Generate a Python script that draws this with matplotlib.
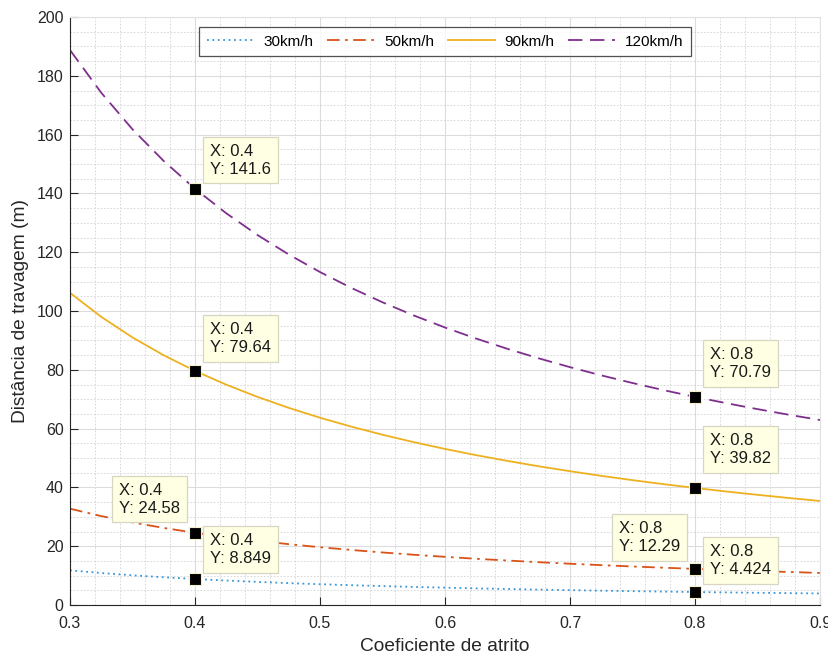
import matplotlib.pyplot as plt
import numpy as np
from matplotlib.ticker import MultipleLocator

# friction coefficient (x) and braking distance (m)
mu = [0.300, 0.325, 0.350, 0.375, 0.400, 0.425, 0.450, 0.475, 0.500, 0.525,
      0.550, 0.575, 0.600, 0.625, 0.650, 0.675, 0.700, 0.725, 0.750, 0.775,
      0.800, 0.825, 0.850, 0.875, 0.900]

d30 = [11.80, 10.89, 10.11, 9.44, 8.849, 8.33, 7.87, 7.45, 7.08, 6.74,
       6.44, 6.16, 5.90, 5.66, 5.45, 5.24, 5.06, 4.88, 4.72, 4.57,
       4.424, 4.29, 4.16, 4.05, 3.93]
d50 = [32.77, 30.25, 28.09, 26.22, 24.58, 23.13, 21.85, 20.70, 19.66, 18.73,
       17.88, 17.10, 16.39, 15.73, 15.13, 14.57, 14.05, 13.56, 13.11, 12.69,
       12.29, 11.92, 11.57, 11.24, 10.92]
d90 = [106.18, 98.02, 91.01, 84.95, 79.64, 74.95, 70.79, 67.06, 63.71, 60.68,
       57.92, 55.40, 53.09, 50.97, 49.01, 47.19, 45.51, 43.94, 42.47, 41.10,
       39.82, 38.61, 37.48, 36.41, 35.39]
d120 = [188.77, 174.25, 161.81, 151.02, 141.58, 133.25, 125.85, 119.23, 113.26, 107.87,
        102.97, 98.49, 94.39, 90.61, 87.13, 83.90, 80.90, 78.11, 75.51, 73.07,
        70.79, 68.65, 66.63, 64.72, 62.92]

labels = ["30km/h", "50km/h", "90km/h", "120km/h"]

plt.rcParams["font.family"] = ["Liberation Sans", "DejaVu Sans"]

fig = plt.figure(figsize=(8.29, 6.59), dpi=100)
ax = fig.add_axes([0.0844, 0.0819, 0.9048, 0.8923])

series = [d30, d50, d90, d120]
colors = ["#3a96d6", "#d95319", "#edb120", "#7e2f8e"]
styles = [(0, (1, 2)), (0, (7, 3, 1.5, 3)), "-", (0, (8, 4.2))]

for d, c, ls, lab in zip(series, colors, styles, labels):
    ax.plot(mu, d, color=c, linestyle=ls, linewidth=1.3, label=lab)

# datatips: (series index, mu, side, vertical offset in px)
tips = [
    (3, 0.4, "right", 12),
    (2, 0.4, "right", 16),
    (1, 0.4, "left", 17),
    (0, 0.4, "right", 13),
    (3, 0.8, "right", 17),
    (2, 0.8, "right", 22),
    (1, 0.8, "left", 15),
    (0, 0.8, "right", 15),
]
for si, m, side, dy in tips:
    y = series[si][mu.index(m)]
    ax.plot([m], [y], marker="s", markersize=8.6, color="black",
            markeredgecolor="#f5f0c8", markeredgewidth=0.8, zorder=5)
    dx = 15 if side == "right" else -15
    ax.annotate("X: %g\nY: %.4g" % (m, y), xy=(m, y), xytext=(dx, dy),
                textcoords="offset pixels",
                ha="left" if side == "right" else "right", va="bottom",
                multialignment="left", fontsize=12, color="#1a1a1a",
                linespacing=1.25, zorder=6,
                bbox=dict(boxstyle="square,pad=0.4", fc="#ffffe3",
                          ec="#d6d6c2", lw=0.9))

ax.set_xlim(0.3, 0.9)
ax.set_ylim(0, 200)
ax.xaxis.set_major_locator(MultipleLocator(0.1))
ax.xaxis.set_minor_locator(MultipleLocator(0.02))
ax.yaxis.set_major_locator(MultipleLocator(20))
ax.yaxis.set_minor_locator(MultipleLocator(5))
ax.set_xticklabels([f"{v:g}" for v in np.round(ax.get_xticks(), 1)])

ax.grid(which="major", color="#dcdcdc", linestyle="-", linewidth=0.8)
ax.grid(which="minor", color="#d2d2d2", linestyle=(0, (2, 2)), linewidth=0.6)
ax.set_axisbelow(True)

ax.tick_params(which="both", direction="in", colors="#262626", labelsize=11.5,
               top=False, right=False)
ax.tick_params(which="major", length=5.5, width=0.8)
ax.tick_params(which="minor", length=0)
ax.tick_params(axis="x", pad=8)
ax.tick_params(axis="y", pad=4.5)
for s in ["left", "bottom"]:
    ax.spines[s].set_color("#262626")
    ax.spines[s].set_linewidth(0.8)
for s in ["top", "right"]:
    ax.spines[s].set_color("#e0e0e0")
    ax.spines[s].set_linewidth(0.8)

ax.set_xlabel("Coeficiente de atrito", fontsize=13.8, color="#262626", labelpad=5)
ax.set_ylabel("Distância de travagem (m)", fontsize=13.8, color="#262626", labelpad=6)

leg = ax.legend(loc="upper center", bbox_to_anchor=(0.5, 0.983), ncol=4,
                fontsize=11, frameon=True, fancybox=False, handlelength=3.1,
                columnspacing=0.9, handletextpad=0.6, borderpad=0.5,
                borderaxespad=0)
leg.get_frame().set_edgecolor("#262626")
leg.get_frame().set_linewidth(0.9)

fig.savefig("out.png", dpi=100)
